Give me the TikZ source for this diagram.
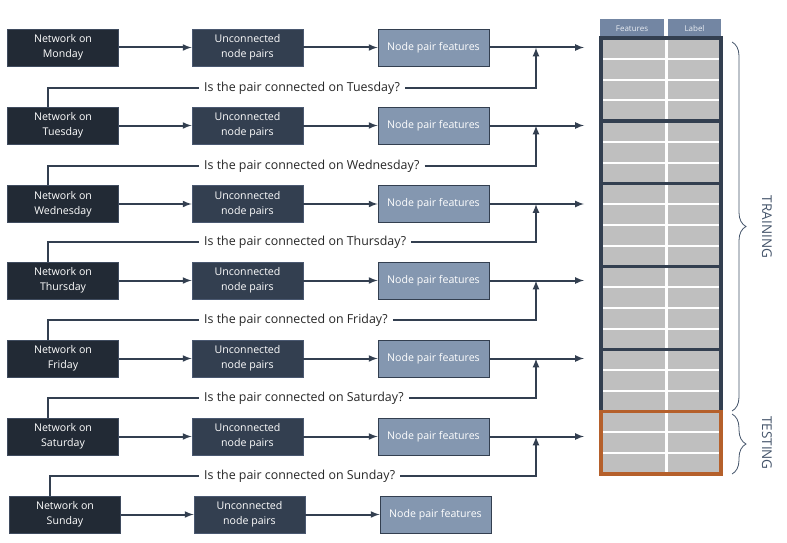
\documentclass[tikz,border=0pt]{standalone}
\usepackage{fontspec}
\setmainfont{Open Sans}
\usetikzlibrary{calc,decorations.pathreplacing}

\definecolor{netfill}{HTML}{222A35}
\definecolor{netline}{HTML}{3F4B5E}
\definecolor{pairfill}{HTML}{333F50}
\definecolor{pairline}{HTML}{4A5870}
\definecolor{featfill}{HTML}{8497B0}
\definecolor{featline}{HTML}{333F50}
\definecolor{linkc}{HTML}{333F50}
\definecolor{headfill}{HTML}{7386A3}
\definecolor{headtext}{HTML}{E8ECF2}
\definecolor{cellgray}{HTML}{BFBFBF}
\definecolor{testc}{HTML}{B5602B}
\definecolor{labelc}{HTML}{44546A}

\tikzset{
  box/.style={draw, line width=0.8pt, minimum width=111pt, minimum height=37pt,
    inner sep=0pt, align=center, text=white, font=\fontsize{10.6}{15}\selectfont},
  netbox/.style={box, fill=netfill, draw=netline},
  pairbox/.style={box, fill=pairfill, draw=pairline},
  featbox/.style={box, fill=featfill, draw=featline},
  link/.style={draw=linkc, line width=2pt},
  ask/.style={font=\fontsize{12.4}{14}\selectfont, text=black!85, anchor=west, inner xsep=5pt},
  head/.style={fill=headfill, text=headtext, minimum height=19pt, inner sep=0pt,
    font=\fontsize{8}{9}\selectfont},
  frame/.style={draw=linkc, line width=3.2pt},
  brace/.style={draw=labelc, line width=0.8pt, decorate, decoration={brace, amplitude=14pt}},
  side/.style={rotate=-90, text=labelc, font=\fontsize{13.5}{15}\selectfont},
}

\begin{document}
\begin{tikzpicture}[x=1pt, y=-1pt]
    \useasboundingbox (0,0) rectangle (787,543);

    % Rows.
    \foreach \i/\day/\y/\dx in {1/Monday/47.5/0, 2/Tuesday/125.5/0, 3/Wednesday/204/0,
        4/Thursday/280.5/0, 5/Friday/358.5/0, 6/Saturday/436.5/0, 7/Sunday/514.5/2} {
        \node[netbox] (net\i) at (63+\dx,\y) {Network on\\\day};
        \node[pairbox] (pairs\i) at (247.5+\dx,\y) {Unconnected\\node pairs};
        \node[featbox] (feat\i) at (433.5+\dx,\y) {Node pair features};
        \draw[link, -latex] (net\i) -- (pairs\i);
        \draw[link, -latex] (pairs\i) -- (feat\i);
    }

    % Into the table.
    \foreach \i/\y in {1/47.5, 2/125.5, 3/204, 4/280.5, 5/358.5, 6/436.5} {
        \coordinate (join\i) at (536,\y);
        \coordinate (in\i) at (584,\y);
        \draw[link, -latex] (feat\i) -- (in\i);
    }

    % Labels of the next day.
    \foreach \i/\j/\day/\y in {1/2/Tuesday/88, 2/3/Wednesday/166, 3/4/Thursday/242,
        4/5/Friday/320, 5/6/Saturday/398, 6/7/Sunday/476} {
        \node[ask] (ask\j) at (199,\y) {Is the pair connected on \day?};
        \draw[link] (net\j.north west) ++(41,0) |- (ask\j.west);
        \draw[link, -latex] (ask\j.east) -| (join\i);
    }

    % Table.
    \def\rowh{20.76}
    \node[head, minimum width=64pt] (hfeat) at (632,28.5) {Features};
    \node[head, minimum width=53pt] (hlabel) at (694.5,28.5) {Label};
    \fill[cellgray] (601,38) rectangle (721,474);
    \foreach \k in {1,2,3,5,6,8,9,10,12,13,14,16,17,19,20}
        \draw[white, line width=2pt] (601,38+\k*\rowh) -- (721,38+\k*\rowh);
    \draw[white, line width=3pt] (666,38) -- (666,474);
    \foreach \a/\b in {0/4, 4/7, 7/11, 11/15, 15/18}
        \draw[frame] (601,38+\a*\rowh) rectangle (721,38+\b*\rowh);
    \draw[frame, draw=testc] (601,38+18*\rowh) rectangle (721,474);

    % Braces.
    \draw[brace] (732,42) -- (732,411);
    \draw[brace] (732,414) -- (732,474);
    \node[side] (train) at (767,227) {TRAINING};
    \node[side] (test) at (767,443) {TESTING};
\end{tikzpicture}
\end{document}
